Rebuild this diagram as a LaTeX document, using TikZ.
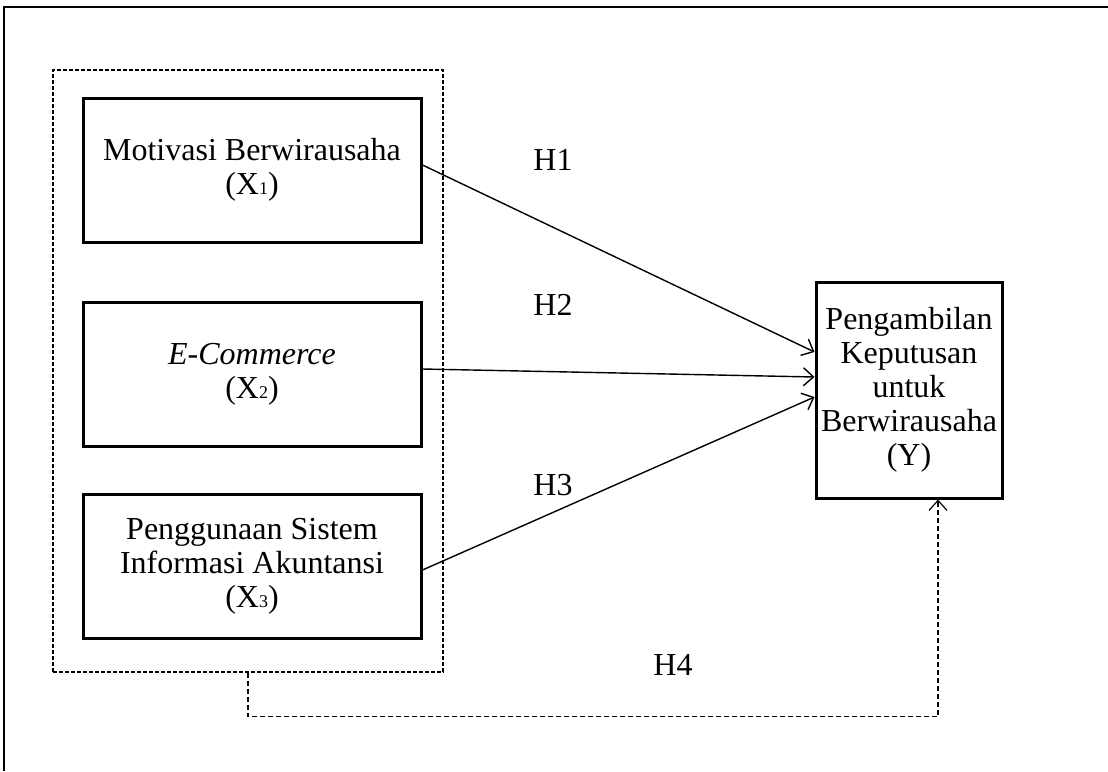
\documentclass[tikz,border=0pt]{standalone}
\usepackage{fontspec}
\setmainfont{Liberation Serif}
\usetikzlibrary{arrows.meta,positioning}
\newcommand{\sub}[1]{{\fontsize{9}{9}\selectfont #1}}
\begin{document}
\begin{tikzpicture}[x=0.5pt,y=-0.5pt]
\tikzstyle{varbox}=[draw=black,line width=1.5pt,rectangle,align=center,inner sep=2pt,font=\fontsize{16}{17}\selectfont]
\tikzstyle{hyp}=[line width=0.7pt,-{Straight Barb[length=5pt,width=9pt]}]
\tikzstyle{hypdash}=[line width=0.6pt,dash pattern=on 2.5pt off 1.5pt]
\tikzstyle{hlabel}=[font=\fontsize{16}{17}\selectfont]
\useasboundingbox (0,0) rectangle (1108,771);
% outer frame
\draw [line width=0.9pt] (1108,7) -- (4,7) -- (4,771);
% group of independent variables
\node [draw=black,line width=0.6pt,dash pattern=on 2pt off 1pt,minimum width=195pt,minimum height=301pt] at (248,371) (grp) {};
\node [varbox,minimum width=169pt,minimum height=72pt] at (252,170) (x1) {Motivasi Berwirausaha\\(X\sub{1})};
\node [varbox,minimum width=169pt,minimum height=72pt] at (252,374.5) (x2) {\textit{E-Commerce}\\(X\sub{2})};
\node [varbox,minimum width=169pt,minimum height=72pt] at (252,566) (x3) {Penggunaan Sistem\\Informasi Akuntansi\\(X\sub{3})};
\node [varbox,minimum width=93pt,minimum height=108pt] at (909,390) (y) {Pengambilan\\Keputusan\\untuk\\Berwirausaha\\(Y)};

\draw [hyp] ([yshift=2.5pt]x1.east) -- ([yshift=19pt]y.west);
\draw [hyp] ([yshift=2.75pt]x2.east) -- ([yshift=6.5pt]y.west);
\draw [hyp] ([yshift=-2pt]x3.east) -- ([yshift=-3.5pt]y.west);
\draw [hypdash,-{Straight Barb[length=5pt,width=9pt]}] (grp.south) -- ++(0,44) -| ([xshift=14.5pt]y.south);

\node [hlabel] at (553,160) (h1) {H1};
\node [hlabel] at (553,305) (h2) {H2};
\node [hlabel] at (553,485) (h3) {H3};
\node [hlabel] at (673,665) (h4) {H4};
\end{tikzpicture}
\end{document}
